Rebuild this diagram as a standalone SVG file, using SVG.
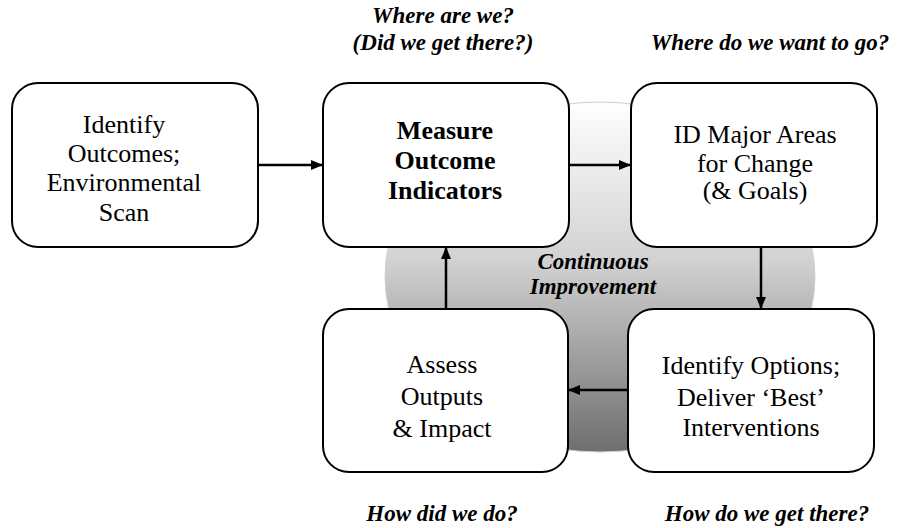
<svg xmlns="http://www.w3.org/2000/svg" width="899" height="528" viewBox="0 0 899 528">
<style>
.box{fill:#fff;stroke:#000;stroke-width:2}
.t{font-family:"Liberation Serif","Times New Roman",serif;font-size:26px;text-anchor:middle;fill:#000}
.b{font-weight:bold}
.q{font-family:"Liberation Serif","Times New Roman",serif;font-size:23px;font-weight:bold;font-style:italic;text-anchor:middle;fill:#000}
.c{stroke:#000;stroke-width:2.5;fill:none;marker-end:url(#ah)}
</style>
<defs>
<linearGradient id="g" x1="0" y1="0" x2="0" y2="1">
<stop offset="0" stop-color="#ffffff"/>
<stop offset="0.45" stop-color="#d2d2d2"/>
<stop offset="1" stop-color="#6e6e6e"/>
</linearGradient>
<marker id="ah" viewBox="0 0 12 10" refX="11" refY="5" markerWidth="12" markerHeight="10" markerUnits="userSpaceOnUse" orient="auto">
<path d="M0,0 L12,5 L0,10 z" fill="#000"/>
</marker>
</defs>
<g id="cycle">
<ellipse cx="600" cy="277" rx="215" ry="175" fill="url(#g)" stroke="#cfcfcf" stroke-width="1"/>
<text class="q" x="593" y="269">Continuous</text>
<text class="q" x="593" y="294">Improvement</text>
</g>
<g id="connectors">
<line class="c" x1="258" y1="165" x2="322" y2="165"/>
<line class="c" x1="569" y1="165" x2="630" y2="165"/>
<line class="c" x1="761" y1="247" x2="761" y2="308"/>
<line class="c" x1="628" y1="390" x2="569" y2="390"/>
<line class="c" x1="446" y1="309" x2="446" y2="248"/>
</g>
<g id="n1">
<rect class="box" x="12" y="83" width="246" height="164" rx="26"/>
<text class="t" x="124" y="133">Identify</text>
<text class="t" x="124" y="162">Outcomes;</text>
<text class="t" x="124" y="191">Environmental</text>
<text class="t" x="124" y="221">Scan</text>
</g>
<g id="n2">
<rect class="box" x="323" y="83" width="246" height="164" rx="26"/>
<text class="t b" x="445" y="139">Measure</text>
<text class="t b" x="445" y="169">Outcome</text>
<text class="t b" x="445" y="199">Indicators</text>
</g>
<g id="n3">
<rect class="box" x="631" y="83" width="246" height="164" rx="26"/>
<text class="t" x="755" y="143">ID Major Areas</text>
<text class="t" x="755" y="172">for Change</text>
<text class="t" x="755" y="199">(&amp; Goals)</text>
</g>
<g id="n4">
<rect class="box" x="323" y="309" width="245" height="163" rx="26"/>
<text class="t" x="442" y="373">Assess</text>
<text class="t" x="442" y="405">Outputs</text>
<text class="t" x="442" y="437">&amp; Impact</text>
</g>
<g id="n5">
<rect class="box" x="628" y="309" width="246" height="163" rx="26"/>
<text class="t" x="751" y="374">Identify Options;</text>
<text class="t" x="751" y="406">Deliver ‘Best’</text>
<text class="t" x="751" y="436">Interventions</text>
</g>
<g id="labels">
<text class="q" x="443" y="23">Where are we?</text>
<text class="q" x="443" y="50">(Did we get there?)</text>
<text class="q" x="770" y="50">Where do we want to go?</text>
<text class="q" x="442" y="521">How did we do?</text>
<text class="q" x="767" y="521">How do we get there?</text>
</g>
</svg>
